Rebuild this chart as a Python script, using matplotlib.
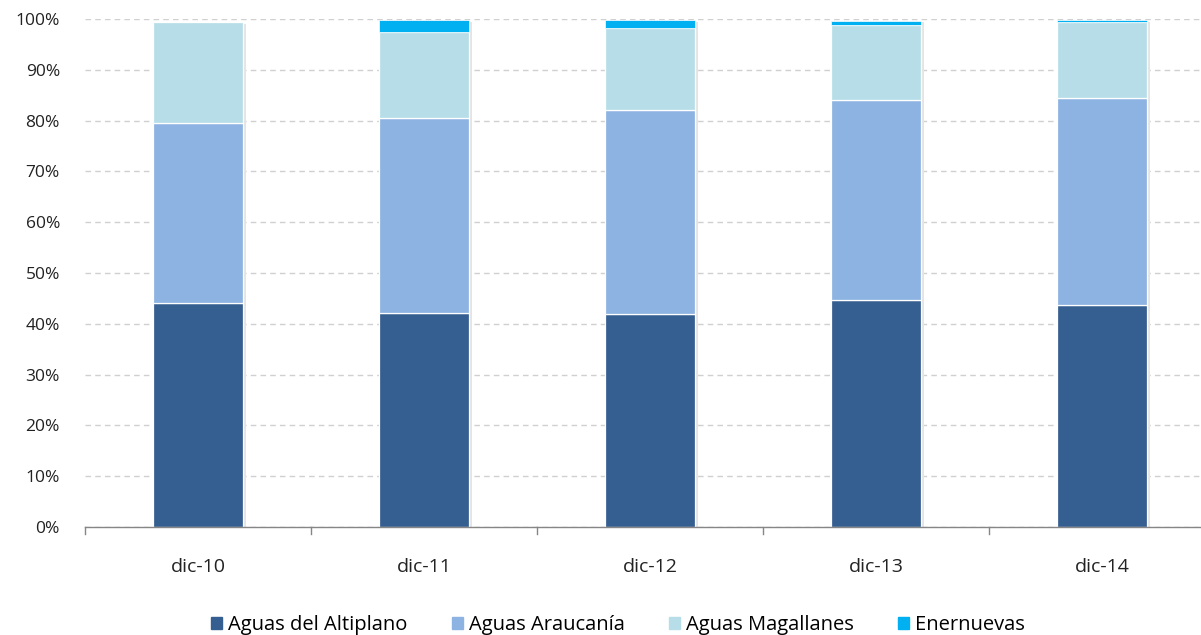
import matplotlib.pyplot as plt
import numpy as np

categories = ["dic-10", "dic-11", "dic-12", "dic-13", "dic-14"]
series_names = ["Aguas del Altiplano", "Aguas Araucanía", "Aguas Magallanes", "Enernuevas"]
altiplano = [44.1, 42.1, 41.9, 44.7, 43.7]
araucania = [35.4, 38.4, 40.2, 39.4, 40.7]
magallanes = [19.9, 16.9, 16.1, 14.7, 15.0]
enernuevas = [0.0, 2.4, 1.6, 0.9, 0.4]
yticks = [0, 10, 20, 30, 40, 50, 60, 70, 80, 90, 100]

colors = ["#365F91", "#8DB3E2", "#B7DEE8", "#00B0F0"]

plt.rcParams['font.family'] = ['Open Sans', 'DejaVu Sans']

fig = plt.figure(figsize=(12.01, 6.35), dpi=100)
# axes deliberately runs past the right edge of the canvas
ax = fig.add_axes([85 / 1201, 1 - 527 / 635, 1130 / 1201, 508 / 635])

x = np.arange(len(categories))
width = 0.4
values = [altiplano, araucania, magallanes, enernuevas]
bottom = np.zeros(len(categories))

# soft shadow behind each stack
totals = np.sum(values, axis=0)
ax.bar(x + 0.012, totals, width, bottom=-0.3, color="#e4e4e4", zorder=1.5, linewidth=0)

for vals, col, name in zip(values, colors, series_names):
    lw = 0.5 if name == "Enernuevas" else 0.9
    ax.bar(x, vals, width, bottom=bottom, color=col, edgecolor="white",
           linewidth=lw, label=name, zorder=2)
    bottom += np.array(vals)

ax.set_xlim(-0.5, 4.5)
ax.set_ylim(0, 100)
ax.set_yticks(yticks)
ax.set_yticklabels([f"{v}%" for v in yticks], fontsize=12.5, color="#222222")
ax.set_xticks(x)
ax.set_xticklabels(categories, fontsize=14, color="#222222")
ax.tick_params(axis="x", length=0, pad=22)
ax.tick_params(axis="y", length=0, pad=18)

# category boundary tick marks
for b in np.arange(-0.5, 5.0, 1.0):
    ax.plot([b, b], [0, -1.3], color="#868686", lw=1.0, clip_on=False, zorder=3)

ax.yaxis.grid(True, linestyle=(0, (4, 3)), color="#d0d0d0", linewidth=1.0, zorder=0)
ax.set_axisbelow(True)
for s in ["top", "right", "left"]:
    ax.spines[s].set_visible(False)
ax.spines["bottom"].set_color("#868686")
ax.spines["bottom"].set_linewidth(1.0)
ax.spines["bottom"].set_zorder(3)

handles = [plt.Rectangle((0, 0), 1, 1, color=c) for c in colors]
fig.legend(handles, series_names, loc="center", bbox_to_anchor=(618 / 1201, 1 - 625 / 635),
           ncol=4, frameon=False, fontsize=14.5, handlelength=0.55, handleheight=0.55,
           handletextpad=0.3, columnspacing=2.2)

fig.savefig("out.png", dpi=100)
